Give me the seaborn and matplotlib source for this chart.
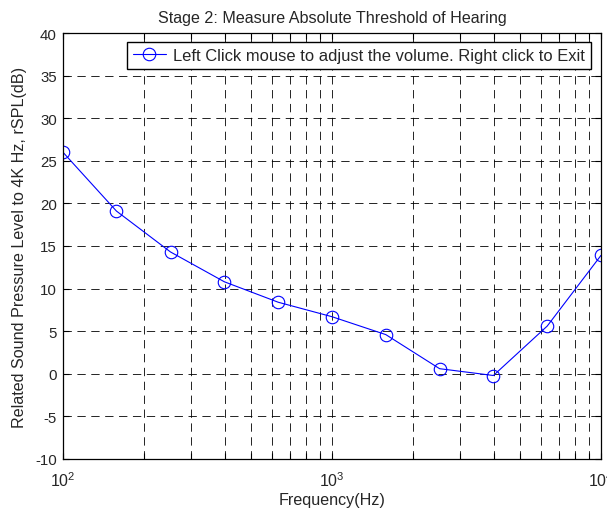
import matplotlib
matplotlib.use("Agg")
import matplotlib.pyplot as plt
import seaborn as sns
import pandas as pd
import numpy as np
from matplotlib.ticker import LogLocator, FixedLocator, NullFormatter

freq_hz = [100, 158, 251, 398, 631, 1000, 1585, 2512, 3981, 6310, 10000]
level_db = [26.0, 19.1, 14.3, 10.8, 8.4, 6.7, 4.6, 0.6, -0.2, 5.6, 13.9]
y_ticks = [-10, -5, 0, 5, 10, 15, 20, 25, 30, 35, 40]
x_ticks = [100, 1000, 10000]
x_tick_labels = [r"$10^2$", r"$10^3$", r"$10^4$"]
title = "Stage 2: Measure Absolute Threshold of Hearing"
xlabel = "Frequency(Hz)"
ylabel = "Related Sound Pressure Level to 4K Hz, rSPL(dB)"
legend_label = "Left Click mouse to adjust the volume. Right click to Exit"

sns.set_style("white")
plt.rcParams['font.family'] = ['Liberation Sans', 'DejaVu Sans']
plt.rcParams['lines.scale_dashes'] = False
plt.rcParams['axes.unicode_minus'] = False
plt.rcParams['mathtext.fontset'] = 'custom'
plt.rcParams['mathtext.rm'] = 'Liberation Sans'
plt.rcParams['mathtext.it'] = 'Liberation Sans'
plt.rcParams['mathtext.default'] = 'rm'

df = pd.DataFrame({"freq": freq_hz, "level": level_db})

fig = plt.figure(figsize=(6.07, 5.10), dpi=100)
ax = fig.add_axes([63/607, 1-460/510, (601-63)/607, (460-34)/510])

sns.lineplot(data=df, x="freq", y="level", ax=ax, color="blue", lw=0.8,
             marker="o", markersize=9, markerfacecolor="none",
             markeredgecolor="blue", markeredgewidth=0.8, label=legend_label)

ax.set_xscale("log")
ax.set_xlim(100, 10000)
ax.set_ylim(-10, 40)
ax.set_yticks(y_ticks)
ax.xaxis.set_major_locator(FixedLocator(x_ticks))
ax.set_xticklabels(x_tick_labels)
ax.xaxis.set_minor_locator(LogLocator(base=10, subs=np.arange(2, 10), numticks=20))
ax.xaxis.set_minor_formatter(NullFormatter())

dash = (0, (6, 4))
ax.grid(True, which="major", axis="both", color="black", lw=0.6, linestyle=dash)
ax.grid(True, which="minor", axis="x", color="black", lw=0.6, linestyle=dash)

ax.tick_params(which="both", direction="in", top=True, right=True,
               bottom=True, left=True, color="black", width=0.8)
ax.tick_params(which="major", length=4)
ax.tick_params(which="minor", length=4)
ax.tick_params(axis="y", labelsize=10.8, pad=4.5)
ax.tick_params(axis="x", labelsize=11.5, pad=8)
for s in ax.spines.values():
    s.set_visible(True)
    s.set_color("black")
    s.set_linewidth(0.9)

ax.set_title(title, fontsize=11.6, pad=8)
ax.set_xlabel(xlabel, fontsize=11.6, labelpad=2)
ax.set_ylabel(ylabel, fontsize=11.6, labelpad=6)

leg = ax.legend(loc="upper right", bbox_to_anchor=((591-63)/(601-63), 1 - (43-34)/(460-34)),
                fontsize=11.9, frameon=True, fancybox=False, borderpad=0.35,
                handlelength=2.0, handletextpad=0.45, borderaxespad=0)
frame = leg.get_frame()
frame.set_edgecolor("black")
frame.set_linewidth(1.0)
frame.set_alpha(1)

fig.savefig("out.png", dpi=100)
